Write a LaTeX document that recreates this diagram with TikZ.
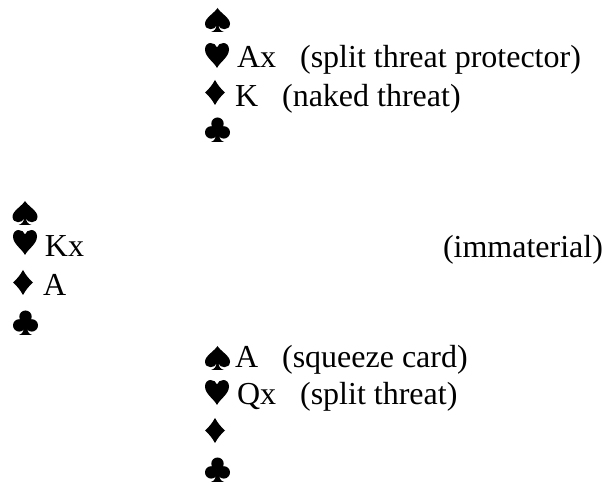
\documentclass[tikz,border=0pt]{standalone}
\usepackage{fontspec}
\setmainfont{Liberation Serif}
\tikzset{
  suitS/.pic={\begin{scope}[yscale=-1]
    \fill (0,24) .. controls (-3,19) and (-12.5,14) .. (-12.5,8.5)
      .. controls (-12.5,4.8) and (-10,2.8) .. (-7,2.8)
      .. controls (-4,2.8) and (-2,4.2) .. (-1,6.5)
      .. controls (-1.5,3) and (-3,1) .. (-6.5,0) -- (6.5,0)
      .. controls (3,1) and (1.5,3) .. (1,6.5)
      .. controls (2,4.2) and (4,2.8) .. (7,2.8)
      .. controls (10,2.8) and (12.5,4.8) .. (12.5,8.5)
      .. controls (12.5,14) and (3,19) .. (0,24) -- cycle;
  \end{scope}},
  suitH/.pic={\begin{scope}[yscale=-1]
    \fill (0,0) .. controls (-3,6) and (-12,11) .. (-12,18.5)
      .. controls (-12,22.5) and (-9.5,25) .. (-6.3,25)
      .. controls (-3,25) and (-1,23) .. (0,20.5)
      .. controls (1,23) and (3,25) .. (6.3,25)
      .. controls (9.5,25) and (12,22.5) .. (12,18.5)
      .. controls (12,11) and (3,6) .. (0,0) -- cycle;
  \end{scope}},
  suitD/.pic={\begin{scope}[yscale=-1]
    \fill (0,0) .. controls (3,5.5) and (6.5,9.5) .. (10,12.5)
      .. controls (6.5,15.5) and (3,19.5) .. (0,25)
      .. controls (-3,19.5) and (-6.5,15.5) .. (-10,12.5)
      .. controls (-6.5,9.5) and (-3,5.5) .. (0,0) -- cycle;
  \end{scope}},
  suitC/.pic={\begin{scope}[yscale=-1]
    \fill (0,18.3) circle (6.2);
    \fill (-6.3,9.6) circle (6.2);
    \fill (6.3,9.6) circle (6.2);
    \fill (-2.5,10) -- (0,15) -- (2.5,10) -- (0,7) -- cycle;
    \fill (-1.2,10) .. controls (-1.5,4) and (-3,1) .. (-6.5,0) -- (6.5,0)
      .. controls (3,1) and (1.5,4) .. (1.2,10) -- cycle;
  \end{scope}},
}
\begin{document}
\begin{tikzpicture}[x=1pt,y=-1pt,
  every node/.style={inner sep=0pt,outer sep=0pt},
  txt/.style={anchor=base west,font=\fontsize{32}{36}\selectfont}]
\useasboundingbox[fill=white] (0,0) rectangle (603,486);
% North
\pic at (217.5,32) {suitS};
\pic at (217,68) {suitH};
\node[txt]  (nht) at (237,68) {Ax\hspace{24pt}(split threat protector)};
\pic at (215,105) {suitD};
\node[txt]  (ndt) at (235,106.5) {K\hspace{24pt}(naked threat)};
\pic at (217.5,142) {suitC};
% West
\pic at (25,225) {suitS};
\pic at (25,255) {suitH};
\node[txt]  (wht) at (45,257) {Kx};
\pic at (23,295) {suitD};
\node[txt]  (wdt) at (43,296) {A};
\pic at (25.5,335) {suitC};
% East
\node[txt] (e) at (443,258) {(immaterial)};
% South
\pic at (217.5,370) {suitS};
\node[txt]  (sst) at (235,368) {A\hspace{24pt}(squeeze card)};
\pic at (217,405) {suitH};
\node[txt]  (sht) at (237,405) {Qx\hspace{24pt}(split threat)};
\pic at (215,443) {suitD};
\pic at (217.5,482) {suitC};
\end{tikzpicture}
\end{document}
